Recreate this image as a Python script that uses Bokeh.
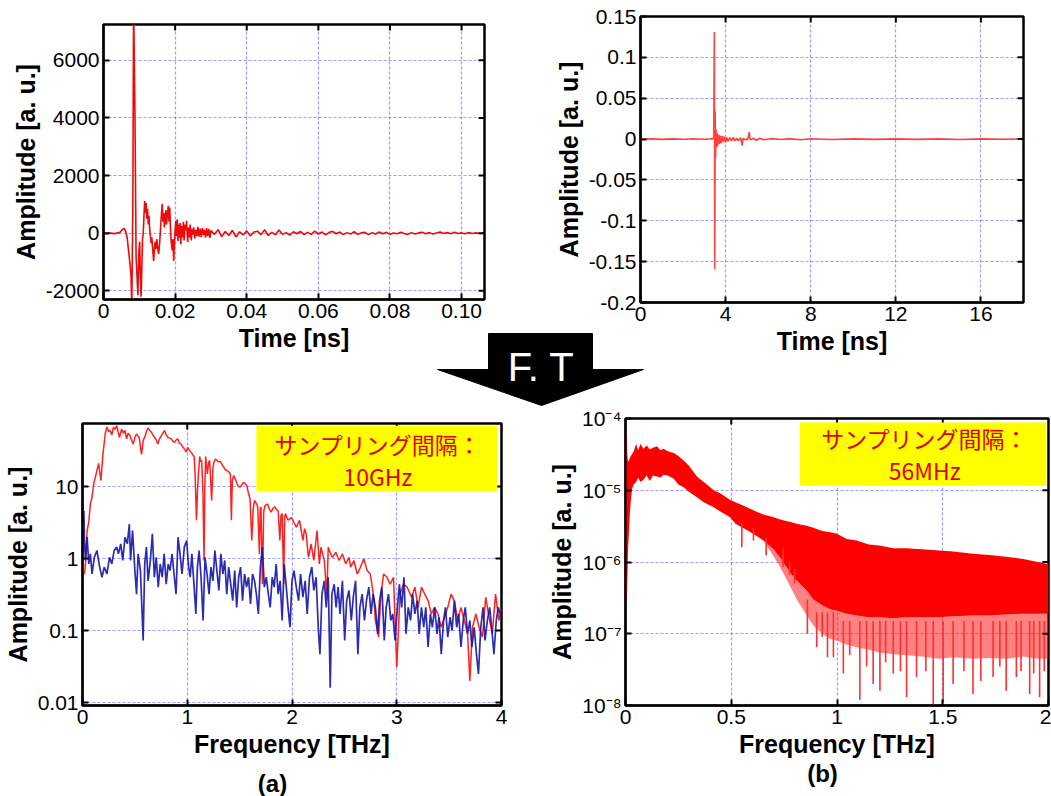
import math
from bokeh.plotting import figure
from bokeh.models import Range1d, FixedTicker, Label, BoxAnnotation, GridBox
from bokeh.embed import file_html
from bokeh.resources import INLINE

# ---------------- data ----------------
# (a) top: time-domain pulse, time [ns] vs amplitude
tl_pairs = [
    (0.0000, 0), (0.0015, 10), (0.0030, -15), (0.0045, 20), (0.0053, 130), (0.0058, 170),
    (0.0062, 60), (0.0066, -150), (0.0070, -600), (0.0074, -1070), (0.0077, -1500), (0.0079, -2600),
    (0.0082, 1000), (0.0084, 8000), (0.0086, 6000), (0.0088, 3900), (0.0091, -800), (0.0094, -1600),
    (0.0096, -2150), (0.0099, -600), (0.0101, -300), (0.0103, -1500), (0.0105, -2200), (0.0107, -1200),
    (0.0109, -200), (0.0111, 0), (0.0113, 600), (0.0115, 1120), (0.0117, 700), (0.0119, 1050),
    (0.0121, 500), (0.0123, 850), (0.0125, 300), (0.0127, 600), (0.0129, 150), (0.0131, -100),
    (0.0133, -350), (0.0135, -150), (0.0137, -500), (0.0140, -960), (0.0142, -600), (0.0144, -300),
    (0.0146, -550), (0.0149, -200), (0.0151, -500), (0.0154, -730), (0.0157, -300), (0.0160, 300),
    (0.0162, 700), (0.0164, 1020), (0.0166, 400), (0.0168, 700), (0.0170, 200), (0.0172, 500),
    (0.0174, 800), (0.0176, 300), (0.0178, 600), (0.0181, 950), (0.0183, 400), (0.0185, 893),
    (0.0187, 200), (0.0189, -300), (0.0192, -600), (0.0194, -200), (0.0196, -960), (0.0198, -400),
    (0.0200, 100), (0.0202, 430), (0.0204, -100), (0.0206, 480), (0.0208, -267), (0.0210, 300),
    (0.0212, -150), (0.0214, 350), (0.0216, -380), (0.0218, 250), (0.0221, -150), (0.0223, 400),
    (0.0225, -250), (0.0228, 300), (0.0230, 100), (0.0232, 430), (0.0235, -300), (0.0237, 200),
    (0.0240, -150), (0.0242, 300), (0.0245, -250), (0.0247, 150), (0.0250, -50), (0.0252, 200),
    (0.0255, -180), (0.0258, 120), (0.0261, -100), (0.0264, 220), (0.0267, -120), (0.0270, 160),
    (0.0273, -140), (0.0276, 180), (0.0279, -60), (0.0282, 120), (0.0285, -150), (0.0288, 180),
    (0.0291, -100), (0.0294, 150), (0.0297, -160), (0.0300, 90),
    (0.031, -40), (0.032, 120), (0.033, -120), (0.034, 60), (0.035, -80), (0.036, 100),
    (0.037, -130), (0.038, 50), (0.039, -60), (0.040, 80), (0.041, -100), (0.042, 40),
    (0.043, 70), (0.044, -50), (0.045, 120), (0.046, -80), (0.047, 30), (0.048, -60),
    (0.049, 110), (0.050, -40), (0.051, 20), (0.052, -70), (0.053, 50), (0.054, -20),
    (0.055, 60), (0.056, -50), (0.057, 30), (0.058, -40), (0.059, 70), (0.060, -30),
    (0.061, 40), (0.062, -60), (0.063, 30), (0.064, 60), (0.065, -20), (0.066, 40),
    (0.067, -50), (0.068, 20), (0.069, -30), (0.070, 50), (0.071, -40), (0.072, 10),
    (0.073, 30), (0.074, -50), (0.075, 20), (0.076, -30), (0.077, 40), (0.078, -20),
    (0.079, 30), (0.080, -40), (0.081, 10), (0.082, -20), (0.083, 30), (0.084, -10),
    (0.085, -40), (0.086, 20), (0.087, -30), (0.088, 10), (0.089, 30), (0.090, -20),
    (0.091, 20), (0.092, -30), (0.093, 10), (0.094, 40), (0.095, -10), (0.096, 20),
    (0.097, -20), (0.098, 30), (0.099, -10), (0.100, 10), (0.101, -20), (0.102, 20),
    (0.103, -10), (0.104, 10), (0.105, -10), (0.106, 0),
]

# (b) top: time-domain pulse, time [ns] vs amplitude
tr_pairs = [
    (0.0, 0.0), (0.5, 0.0003), (1.0, -0.0004), (1.5, 0.0002), (2.0, -0.0003), (2.5, 0.0004),
    (3.0, -0.0002), (3.3, 0.0003), (3.44, 0.001), (3.47, 0.131), (3.49, -0.159), (3.51, 0.034),
    (3.53, -0.022), (3.55, 0.012), (3.57, -0.01), (3.59, 0.008), (3.61, -0.009), (3.63, 0.006),
    (3.66, -0.007), (3.69, 0.005), (3.72, -0.006), (3.76, 0.004), (3.80, -0.005), (3.85, 0.004),
    (3.90, -0.003), (3.95, 0.003), (4.00, -0.004), (4.06, 0.002), (4.12, -0.003), (4.20, 0.002),
    (4.28, -0.002), (4.36, 0.002), (4.44, -0.002), (4.52, 0.001), (4.60, -0.002), (4.70, 0.0015),
    (4.78, -0.008), (4.82, 0.001), (4.95, -0.001), (5.05, 0.001), (5.11, 0.0085), (5.15, -0.001),
    (5.3, 0.001), (5.45, -0.0015), (5.6, 0.001), (5.8, -0.0008), (6.2, 0.0006), (6.6, -0.0006),
    (7.0, 0.0005), (7.5, -0.0008), (8.0, 0.0004), (9.0, -0.0005), (10.0, 0.0003), (11.0, -0.0004),
    (12.0, 0.0003), (13.0, -0.0004), (14.0, 0.0003), (15.0, -0.0005), (16.0, 0.0002),
    (17.0, -0.0003), (17.8, 0.0002),
]

# (a) bottom: spectra, frequency [THz] vs amplitude (red = sample, blue = noise)
bl_red_pairs = [
    (0.0, 0.75), (0.019, 0.61), (0.03, 0.9), (0.044, 2.45), (0.06, 3.2), (0.075, 5.7), (0.09, 7.0),
    (0.107, 10.9), (0.12, 13), (0.138, 16.7), (0.154, 21), (0.176, 12.1), (0.195, 28), (0.217, 54),
    (0.233, 67), (0.25, 58), (0.264, 60), (0.28, 52), (0.296, 67), (0.31, 62), (0.327, 70),
    (0.352, 48), (0.374, 63), (0.39, 55), (0.405, 60), (0.421, 46), (0.435, 55), (0.453, 51),
    (0.468, 44), (0.484, 39), (0.5, 48), (0.516, 54), (0.53, 50), (0.541, 48), (0.563, 28),
    (0.58, 44), (0.594, 48), (0.61, 58), (0.626, 65), (0.64, 60), (0.657, 57), (0.672, 52),
    (0.689, 48), (0.705, 44), (0.72, 39), (0.735, 46), (0.752, 51), (0.768, 55), (0.783, 60),
    (0.8, 52), (0.814, 48), (0.83, 47), (0.846, 46), (0.86, 43), (0.877, 41), (0.893, 44),
    (0.909, 46), (0.925, 40), (0.94, 39), (0.96, 35), (0.981, 32), (0.99, 30), (1.003, 35),
    (1.02, 32), (1.035, 30), (1.05, 28), (1.066, 26), (1.075, 15), (1.088, 3.4), (1.098, 9),
    (1.107, 15), (1.119, 26), (1.13, 22), (1.138, 23), (1.15, 8), (1.16, 0.94), (1.168, 10),
    (1.176, 26), (1.192, 15), (1.205, 22), (1.214, 23), (1.233, 6.4), (1.245, 18), (1.255, 22),
    (1.27, 24), (1.286, 23), (1.3, 22), (1.318, 22), (1.335, 20), (1.349, 18.5), (1.365, 17),
    (1.381, 16.7), (1.395, 16), (1.412, 15), (1.421, 3.4), (1.43, 12), (1.443, 14.2), (1.46, 12.5),
    (1.475, 10.9), (1.49, 10), (1.506, 9.8), (1.52, 10.5), (1.538, 11.5), (1.555, 10.8),
    (1.569, 10.3), (1.585, 8), (1.6, 6.7), (1.616, 1.78), (1.63, 5), (1.642, 6.4), (1.66, 5.8),
    (1.673, 5.2), (1.689, 1.16), (1.697, 5), (1.704, 5.2), (1.717, 0.44), (1.73, 4.5),
    (1.742, 5.4), (1.755, 5.6), (1.767, 5.7), (1.78, 5.0), (1.799, 4.4), (1.82, 5.0), (1.837, 5.2),
    (1.85, 4.8), (1.868, 4.6), (1.884, 1.78), (1.895, 4.0), (1.906, 4.2), (1.921, 0.44),
    (1.93, 3.8), (1.937, 4.2), (1.962, 3.4), (1.994, 3.7), (2.009, 3.4), (2.041, 2.72),
    (2.072, 3.4), (2.104, 1.78), (2.12, 2.6), (2.135, 2.2), (2.157, 1.04), (2.182, 1.6),
    (2.208, 0.94), (2.239, 2.45), (2.261, 0.84), (2.277, 1.44), (2.308, 0.94), (2.333, 0.32),
    (2.346, 1.44), (2.365, 1.2), (2.387, 1.04), (2.418, 1.22), (2.45, 0.94), (2.481, 1.16),
    (2.513, 0.84), (2.544, 1.04), (2.56, 0.76), (2.591, 0.94), (2.623, 0.61), (2.654, 0.76),
    (2.686, 0.99), (2.717, 0.68), (2.748, 0.61), (2.78, 0.29), (2.796, 0.138), (2.827, 0.081),
    (2.849, 0.32), (2.874, 0.61), (2.906, 0.55), (2.937, 0.44), (2.969, 0.55), (3.0, 0.031),
    (3.031, 0.32), (3.063, 0.44), (3.1, 0.40), (3.142, 0.29), (3.173, 0.40), (3.204, 0.21),
    (3.236, 0.40), (3.267, 0.32), (3.299, 0.26), (3.33, 0.17), (3.362, 0.21), (3.393, 0.17),
    (3.425, 0.111), (3.456, 0.153), (3.487, 0.21), (3.519, 0.32), (3.55, 0.26), (3.582, 0.138),
    (3.613, 0.21), (3.645, 0.138), (3.676, 0.09), (3.698, 0.020), (3.723, 0.111), (3.755, 0.17),
    (3.786, 0.111), (3.818, 0.081), (3.849, 0.29), (3.881, 0.153), (3.912, 0.09), (3.943, 0.32),
    (3.975, 0.138), (4.0, 0.2),
]
bl_blue_pairs = [
    (0.0, 1.2), (0.013, 4.6), (0.019, 1.78), (0.028, 0.94), (0.044, 1.98), (0.06, 0.84),
    (0.075, 1.16), (0.091, 0.61), (0.113, 1.04), (0.138, 1.29), (0.164, 0.76), (0.186, 0.55),
    (0.208, 0.76), (0.233, 0.61), (0.258, 1.04), (0.28, 0.84), (0.302, 1.29), (0.327, 1.44),
    (0.343, 1.16), (0.365, 1.6), (0.384, 0.94), (0.406, 1.98), (0.428, 1.6), (0.447, 3.0),
    (0.459, 0.94), (0.478, 2.45), (0.5, 0.68), (0.516, 0.32), (0.531, 1.16), (0.553, 0.68),
    (0.579, 0.073), (0.594, 0.84), (0.61, 1.44), (0.626, 0.49), (0.648, 0.94), (0.667, 2.2),
    (0.686, 0.55), (0.704, 1.04), (0.723, 0.40), (0.742, 0.84), (0.761, 0.55), (0.78, 1.16),
    (0.799, 0.44), (0.818, 0.84), (0.836, 0.68), (0.855, 1.16), (0.874, 0.61), (0.893, 0.32),
    (0.912, 1.98), (0.931, 1.16), (0.95, 0.61), (0.972, 1.44), (0.994, 1.78), (1.013, 0.76),
    (1.028, 0.55), (1.044, 1.16), (1.066, 0.40), (1.082, 0.17), (1.097, 0.76), (1.113, 1.29),
    (1.132, 0.55), (1.151, 0.138), (1.17, 1.04), (1.189, 0.61), (1.208, 0.32), (1.226, 0.76),
    (1.245, 0.49), (1.264, 1.29), (1.283, 0.68), (1.302, 0.36), (1.321, 1.16), (1.34, 0.61),
    (1.358, 0.94), (1.377, 0.32), (1.396, 0.76), (1.415, 0.44), (1.434, 0.26), (1.453, 0.68),
    (1.472, 0.21), (1.491, 0.55), (1.509, 0.76), (1.528, 0.26), (1.547, 0.61), (1.566, 0.40),
    (1.585, 0.55), (1.604, 0.234), (1.623, 0.61), (1.642, 0.49), (1.66, 0.32), (1.679, 0.17),
    (1.698, 0.76), (1.717, 1.44), (1.736, 0.40), (1.755, 0.55), (1.774, 0.32), (1.792, 0.21),
    (1.811, 0.55), (1.83, 0.40), (1.849, 0.84), (1.868, 0.32), (1.887, 0.49), (1.906, 0.138),
    (1.925, 0.84), (1.943, 0.44), (1.962, 0.21), (1.981, 0.111), (2.0, 0.49), (2.019, 0.68),
    (2.041, 0.40), (2.063, 0.26), (2.082, 0.61), (2.104, 0.29), (2.126, 0.49), (2.145, 0.17),
    (2.167, 0.55), (2.189, 0.76), (2.208, 0.36), (2.23, 0.55), (2.252, 0.1), (2.267, 0.047),
    (2.286, 0.32), (2.308, 0.49), (2.327, 0.21), (2.346, 0.55), (2.365, 0.016), (2.381, 0.32),
    (2.403, 0.44), (2.421, 0.21), (2.44, 0.40), (2.459, 0.17), (2.481, 0.49), (2.503, 0.073),
    (2.522, 0.26), (2.544, 0.36), (2.566, 0.138), (2.585, 0.29), (2.607, 0.49), (2.629, 0.047),
    (2.648, 0.21), (2.67, 0.32), (2.692, 0.138), (2.711, 0.26), (2.733, 0.40), (2.755, 0.17),
    (2.774, 0.32), (2.796, 0.21), (2.818, 0.09), (2.836, 0.26), (2.858, 0.40), (2.881, 0.073),
    (2.899, 0.21), (2.921, 0.32), (2.943, 0.138), (2.962, 0.17), (2.984, 0.073), (3.006, 0.21),
    (3.025, 0.44), (3.047, 0.21), (3.069, 0.55), (3.088, 0.09), (3.11, 0.21), (3.132, 0.138),
    (3.151, 0.32), (3.173, 0.17), (3.195, 0.26), (3.214, 0.09), (3.236, 0.21), (3.258, 0.111),
    (3.277, 0.21), (3.299, 0.059), (3.321, 0.17), (3.34, 0.111), (3.362, 0.21), (3.384, 0.09),
    (3.403, 0.153), (3.425, 0.047), (3.447, 0.138), (3.465, 0.21), (3.487, 0.081), (3.509, 0.153),
    (3.528, 0.1), (3.55, 0.26), (3.572, 0.111), (3.591, 0.17), (3.613, 0.059), (3.635, 0.138),
    (3.654, 0.21), (3.676, 0.09), (3.698, 0.138), (3.717, 0.059), (3.739, 0.111), (3.761, 0.047),
    (3.78, 0.025), (3.802, 0.111), (3.824, 0.21), (3.843, 0.073), (3.865, 0.138), (3.887, 0.21),
    (3.906, 0.111), (3.928, 0.047), (3.95, 0.138), (3.969, 0.21), (4.0, 0.15),
]

# (b) bottom: dense spectrum, frequency [THz]: upper edge, solid lower edge, sparse floor
br_rows = [
    (0.000, 6.0e-5, 1.0e-5, 1.0e-5), (0.003, 8.0e-5, 3.0e-7, 3.0e-7), (0.006, 5.0e-5, 2.8e-7, 2.8e-7),
    (0.009, 3.0e-5, 6.0e-7, 6.0e-7), (0.012, 2.5e-5, 1.5e-6, 1.5e-6), (0.016, 2.6e-5, 2.5e-6, 2.5e-6),
    (0.020, 2.8e-5, 4.5e-6, 4.5e-6), (0.025, 3.0e-5, 7.0e-6, 7.0e-6), (0.031, 3.2e-5, 1.05e-5, 1.05e-5),
    (0.039, 3.5e-5, 1.2e-5, 1.2e-5), (0.050, 4.4e-5, 1.3e-5, 1.3e-5), (0.060, 3.6e-5, 1.5e-5, 1.5e-5),
    (0.071, 4.4e-5, 1.3e-5, 1.3e-5), (0.085, 3.8e-5, 1.4e-5, 1.4e-5), (0.100, 4.2e-5, 1.6e-5, 1.6e-5),
    (0.115, 3.7e-5, 1.35e-5, 1.35e-5), (0.130, 3.9e-5, 1.6e-5, 1.6e-5), (0.149, 4.1e-5, 1.55e-5, 1.55e-5),
    (0.165, 3.6e-5, 1.5e-5, 1.5e-5), (0.180, 3.8e-5, 1.65e-5, 1.65e-5), (0.200, 3.5e-5, 1.6e-5, 1.6e-5),
    (0.228, 3.3e-5, 1.45e-5, 1.45e-5), (0.250, 3.0e-5, 1.2e-5, 1.2e-5), (0.275, 2.6e-5, 1.1e-5, 1.1e-5),
    (0.300, 2.2e-5, 9.5e-6, 9.5e-6), (0.338, 1.55e-5, 8.0e-6, 8.0e-6), (0.370, 1.3e-5, 6.8e-6, 6.8e-6),
    (0.417, 1.0e-5, 5.8e-6, 5.8e-6), (0.450, 9.0e-6, 5.0e-6, 5.0e-6), (0.495, 7.3e-6, 4.2e-6, 4.2e-6),
    (0.520, 6.8e-6, 3.4e-6, 3.4e-6), (0.574, 5.8e-6, 2.8e-6, 2.8e-6), (0.620, 5.0e-6, 2.3e-6, 2.3e-6),
    (0.652, 4.6e-6, 2.0e-6, 2.0e-6), (0.700, 4.2e-6, 1.5e-6, 1.2e-6), (0.731, 3.9e-6, 1.15e-6, 8.5e-7),
    (0.780, 3.6e-6, 7.0e-7, 4.5e-7), (0.810, 3.4e-6, 5.5e-7, 3.0e-7), (0.857, 3.2e-6, 4.0e-7, 1.8e-7),
    (0.888, 3.0e-6, 3.0e-7, 1.3e-7), (0.930, 2.7e-6, 2.5e-7, 1.0e-7), (0.967, 2.6e-6, 2.2e-7, 8.5e-8),
    (1.000, 2.47e-6, 2.1e-7, 8.0e-8), (1.046, 2.1e-6, 1.9e-7, 7.0e-8), (1.093, 2.0e-6, 1.8e-7, 6.5e-8),
    (1.150, 1.75e-6, 1.7e-7, 6.0e-8), (1.200, 1.7e-6, 1.7e-7, 5.5e-8), (1.266, 1.55e-6, 1.65e-7, 5.2e-8),
    (1.329, 1.55e-6, 1.7e-7, 5.0e-8), (1.400, 1.5e-6, 1.7e-7, 4.8e-8), (1.486, 1.45e-6, 1.7e-7, 4.5e-8),
    (1.550, 1.4e-6, 1.75e-7, 4.7e-8), (1.643, 1.3e-6, 1.8e-7, 4.5e-8), (1.720, 1.25e-6, 1.8e-7, 4.6e-8),
    (1.800, 1.18e-6, 1.85e-7, 4.5e-8), (1.880, 1.1e-6, 1.9e-7, 4.8e-8), (1.950, 1.0e-6, 1.9e-7, 4.5e-8),
    (2.000, 9.3e-7, 1.9e-7, 4.5e-8),
]
# deep dips of the dense spectrum: (frequency, bottom, top)
br_spikes = [
    (0.55, 1.6e-6, 3.5e-6), (0.605, 2.0e-6, 3.0e-6), (0.665, 1.23e-6, 2.2e-6), (0.745, 8.5e-7, 1.5e-6),
    (0.776, 6.6e-7, 1.0e-6), (0.80, 5.0e-7, 8.0e-7), (0.86, 1.0e-7, 3.0e-7), (0.904, 6.5e-8, 2.0e-7),
    (0.93, 9.0e-8, 2.0e-7), (0.955, 4.7e-8, 2.0e-7), (0.983, 4.7e-8, 2.0e-7), (1.03, 2.8e-8, 1.5e-7),
    (1.06, 5.0e-8, 1.5e-7), (1.108, 1.2e-8, 1.5e-7), (1.14, 3.5e-8, 1.5e-7), (1.171, 2.0e-8, 1.5e-7),
    (1.203, 1.6e-8, 1.5e-7), (1.23, 4.0e-8, 1.5e-7), (1.266, 2.8e-8, 1.5e-7), (1.30, 3.0e-8, 1.5e-7),
    (1.329, 1.3e-8, 1.5e-7), (1.376, 2.5e-8, 1.5e-7), (1.42, 3.0e-8, 1.5e-7), (1.455, 1.0e-8, 1.5e-7),
    (1.502, 1.1e-8, 1.5e-7), (1.549, 2.0e-8, 1.5e-7), (1.60, 3.0e-8, 1.5e-7), (1.643, 1.45e-8, 1.5e-7),
    (1.68, 2.2e-8, 1.5e-7), (1.738, 2.5e-8, 1.5e-7), (1.77, 3.5e-8, 1.5e-7), (1.80, 1.6e-8, 1.5e-7),
    (1.848, 2.5e-8, 1.5e-7), (1.87, 3.0e-8, 1.5e-7), (1.911, 1.45e-8, 1.5e-7), (1.93, 2.8e-8, 1.5e-7),
    (1.958, 1.3e-8, 1.5e-7), (1.98, 3.0e-8, 1.5e-7),
]

# tick values and labels
tl_xticks = [0, 0.02, 0.04, 0.06, 0.08, 0.10]
tl_xlabels = ["0", "0.02", "0.04", "0.06", "0.08", "0.10"]
tl_yticks = [-2000, 0, 2000, 4000, 6000]
tl_ylabels = ["-2000", "0", "2000", "4000", "6000"]
tr_xticks = [0, 4, 8, 12, 16]
tr_xlabels = ["0", "4", "8", "12", "16"]
tr_yticks = [-0.2, -0.15, -0.1, -0.05, 0, 0.05, 0.1, 0.15]
tr_ylabels = ["-0.2", "-0.15", "-0.1", "-0.05", "0", "0.05", "0.1", "0.15"]
bl_xticks = [0, 1, 2, 3, 4]
bl_xlabels = ["0", "1", "2", "3", "4"]
bl_yticks = [0.01, 0.1, 1, 10]
bl_ylabels = ["0.01", "0.1", "1", "10"]
br_xticks = [0, 0.5, 1, 1.5, 2]
br_xlabels = ["0", "0.5", "1", "1.5", "2"]
br_yticks = [1e-8, 1e-7, 1e-6, 1e-5, 1e-4]
br_ylabels = ["10⁻⁸", "10⁻⁷", "10⁻⁶", "10⁻⁵", "10⁻⁴"]

# texts
time_title = "Time [ns]"
freq_title = "Frequency [THz]"
amp_title = "Amplitude [a. u.]"
note_line1 = "サンプリング間隔："
note_a = "10GHz"
note_b = "56MHz"

# decorative arrow between the panels (page pixels)
ARROW_X = [488, 592, 592, 643, 541, 437, 488]
ARROW_Y = [333, 333, 369, 369, 405, 369, 369]

# ---------------- styling helpers ----------------
FONT = "Liberation Sans"
CJK = "Noto Sans CJK JP"
GRID_COLOR = "#3a3aff"


def style_axis(ax, ticks, labels):
    ax.ticker = FixedTicker(ticks=ticks, minor_ticks=[])
    ax.major_label_overrides = dict(zip(ticks, labels))
    ax.major_tick_in = 6
    ax.major_tick_out = 0
    ax.major_tick_line_color = "black"
    ax.major_tick_line_width = 2
    ax.minor_tick_line_color = None
    ax.axis_line_color = "black"
    ax.axis_line_width = 2
    ax.major_label_text_font = FONT
    ax.major_label_text_color = "black"
    ax.major_label_text_font_size = "21px"
    ax.major_label_standoff = 4
    ax.axis_label_text_font = FONT
    ax.axis_label_text_font_style = "bold"
    ax.axis_label_text_font_size = "25px"
    ax.axis_label_text_color = "black"
    ax.axis_label_standoff = 3


def make_panel(w, h, xr, yr, borders, xt, xl, yt, yl, xtitle, ytitle, ylog=False):
    left, right, top, bottom = borders
    p = figure(width=w, height=h, x_range=xr, y_range=yr,
               y_axis_type="log" if ylog else "linear",
               output_backend="svg", toolbar_location=None, tools="",
               min_border_left=left, min_border_right=right,
               min_border_top=top, min_border_bottom=bottom)
    p.frame_align = False
    p.background_fill_color = "white"
    p.border_fill_color = "white"
    p.outline_line_color = "black"
    p.outline_line_width = 2.5
    p.outline_line_alpha = 1.0
    style_axis(p.xaxis[0], xt, xl)
    style_axis(p.yaxis[0], yt, yl)
    p.xaxis[0].axis_label = xtitle
    p.yaxis[0].axis_label = ytitle
    p.xgrid.ticker = FixedTicker(ticks=xt, minor_ticks=[])
    p.ygrid.ticker = FixedTicker(ticks=yt, minor_ticks=[])
    for g in list(p.xgrid) + list(p.ygrid):
        g.grid_line_color = GRID_COLOR
        g.grid_line_alpha = 0.5
        g.grid_line_dash = "3 2"
        g.grid_line_width = 1.2
    return p


def mirror_ticks(p, xr, yr, xt, yt):
    # inward tick marks on the top and right frame edges (half of each dash is clipped by the frame)
    inner_x = [t for t in xt if xr.start < t < xr.end]
    inner_y = [t for t in yt if yr.start < t < yr.end]
    p.scatter(x=inner_x, y=[yr.end] * len(inner_x), marker="dash", angle=math.pi / 2, size=12,
              line_color="black", line_width=2)
    p.scatter(x=[xr.end] * len(inner_y), y=inner_y, marker="dash", size=12,
              line_color="black", line_width=2)


def split(pairs):
    return [r[0] for r in pairs], [r[1] for r in pairs]


# ---------------- (a) top ----------------
tl_xr, tl_yr = Range1d(0, 0.1064), Range1d(-2300, 7240)
tl = make_panel(540, 405, tl_xr, tl_yr, (103, 56, 24, 106),
                tl_xticks, tl_xlabels, tl_yticks, tl_ylabels, time_title, amp_title)
tl_t, tl_a = split(tl_pairs)
tl.line(tl_t, tl_a, line_color="#ee0a0a", line_width=1.6)
mirror_ticks(tl, tl_xr, tl_yr, tl_xticks, tl_yticks)

# ---------------- (b) top ----------------
tr_xr, tr_yr = Range1d(0, 18), Range1d(-0.2, 0.15)
tr = make_panel(511, 405, tr_xr, tr_yr, (100, 28, 16, 103),
                tr_xticks, tr_xlabels, tr_yticks, tr_ylabels, time_title, amp_title)
tr_t, tr_a = split(tr_pairs)
tr.line(tr_t, tr_a, line_color="#ff3030", line_width=1.6, line_alpha=0.9)
mirror_ticks(tr, tr_xr, tr_yr, tr_xticks, tr_yticks)

# ---------------- (a) bottom ----------------
bl_xr, bl_yr = Range1d(0, 4), Range1d(0.0091, 75)
bl = make_panel(540, 391, bl_xr, bl_yr, (77, 39, 18, 91),
                bl_xticks, bl_xlabels, bl_yticks, bl_ylabels, freq_title, amp_title, ylog=True)
rf, ra = split(bl_red_pairs)
bf, ba = split(bl_blue_pairs)
bl.line(rf, ra, line_color="#ff2020", line_width=1.5)
bl.line(bf, ba, line_color="#1515a8", line_width=1.7, line_alpha=0.9)
mirror_ticks(bl, bl_xr, bl_yr, bl_xticks, bl_yticks)
bl.add_layout(BoxAnnotation(left=1.66, right=3.96, top=70, bottom=8.5,
                            fill_color="#ffff00", fill_alpha=1.0, line_color=None))
bl.add_layout(Label(x=2.82, y=39.5, text=note_line1, text_align="center", text_baseline="middle",
                    text_font=CJK, text_font_size="23px", text_color="#e00000"))
bl.add_layout(Label(x=2.82, y=14.2, text=note_a, text_align="center", text_baseline="middle",
                    text_font=CJK, text_font_size="23px", text_color="#e00000"))

# ---------------- (b) bottom ----------------
br_xr, br_yr = Range1d(0, 2), Range1d(1e-8, 1e-4)
br = make_panel(511, 391, br_xr, br_yr, (85, 3, 13, 91),
                br_xticks, br_xlabels, br_yticks, br_ylabels, freq_title, amp_title, ylog=True)
br_f = [r[0] for r in br_rows]
br_up = [r[1] for r in br_rows]
br_lo = [r[2] for r in br_rows]
br_floor = [r[3] for r in br_rows]
br.varea(x=br_f, y1=br_floor, y2=br_lo, fill_color="#ff1a1a", fill_alpha=0.55)
br.varea(x=br_f, y1=br_lo, y2=br_up, fill_color="#ff0000", fill_alpha=1.0)
br.segment(x0=[s[0] for s in br_spikes], y0=[s[1] for s in br_spikes],
           x1=[s[0] for s in br_spikes], y1=[s[2] for s in br_spikes],
           line_color="#ff3030", line_width=1.6)
mirror_ticks(br, br_xr, br_yr, br_xticks, br_yticks)
br.add_layout(BoxAnnotation(left=0.825, right=1.99, top=8.8e-5, bottom=1.16e-5,
                            fill_color="#ffff00", fill_alpha=1.0, line_color=None))
br.add_layout(Label(x=1.415, y=5.4e-5, text=note_line1, text_align="center", text_baseline="middle",
                    text_font=CJK, text_font_size="23px", text_color="#e00000"))
br.add_layout(Label(x=1.415, y=1.9e-5, text=note_b, text_align="center", text_baseline="middle",
                    text_font=CJK, text_font_size="23px", text_color="#e00000"))

# ---------------- overlay: arrow and panel letters ----------------
ov = figure(width=1051, height=796, x_range=Range1d(0, 1051), y_range=Range1d(796, 0),
            output_backend="svg", toolbar_location=None, tools="",
            x_axis_location=None, y_axis_location=None, min_border=0)
ov.frame_align = False
ov.background_fill_alpha = 0
ov.border_fill_alpha = 0
ov.outline_line_color = None
for g in list(ov.xgrid) + list(ov.ygrid):
    g.visible = False
ov.patch(ARROW_X, ARROW_Y, fill_color="black", line_color="black")
ov.add_layout(Label(x=540.5, y=366, text="F. T", text_align="center", text_baseline="middle",
                    text_font=FONT, text_font_size="40px", text_color="white"))
ov.add_layout(Label(x=272, y=783, text="(a)", text_align="center", text_baseline="middle",
                    text_font=FONT, text_font_size="24px", text_font_style="bold", text_color="black"))
ov.add_layout(Label(x=822, y=773, text="(b)", text_align="center", text_baseline="middle",
                    text_font=FONT, text_font_size="24px", text_font_style="bold", text_color="black"))

layout = GridBox(children=[(tl, 0, 0), (tr, 0, 1), (bl, 1, 0), (br, 1, 1), (ov, 0, 0, 2, 2)],
                 spacing=0)

with open("out.html", "w", encoding="utf-8") as fh:
    fh.write(file_html(layout, INLINE, "chart"))
